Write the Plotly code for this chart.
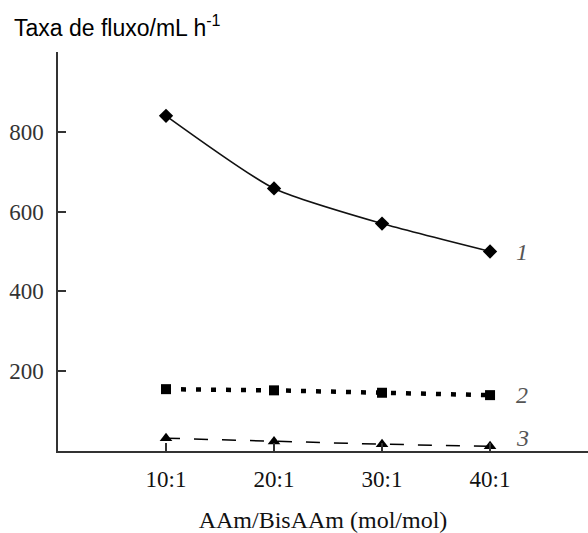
import plotly.graph_objects as go

categories = ["10:1", "20:1", "30:1", "40:1"]
x_pos = [1, 2, 3, 4]
series1 = [840, 658, 570, 500]
series2 = [155, 152, 146, 140]
series3 = [32, 24, 17, 12]
series_labels = ["1", "2", "3"]
label_yshift = [0, 0, 8]
y_ticks = [200, 400, 600, 800]

fig = go.Figure()
fig.add_trace(go.Scatter(
    x=x_pos, y=series1, mode="lines+markers",
    line=dict(color="#111", width=1.6, shape="spline", smoothing=0.6),
    marker=dict(symbol="diamond", size=11, color="#000"),
    showlegend=False))
fig.add_trace(go.Scatter(
    x=x_pos, y=series2, mode="lines+markers",
    line=dict(color="#000", width=4.5, dash="5px,10px"),
    marker=dict(symbol="square", size=10, color="#000"),
    showlegend=False))
fig.add_trace(go.Scatter(
    x=x_pos, y=series3, mode="lines+markers",
    line=dict(color="#000", width=1.5, dash="14px,14px"),
    marker=dict(symbol="triangle-up", size=11, color="#000"),
    showlegend=False))

last_vals = [series1[-1], series2[-1], series3[-1]]
for lab, yv, ys in zip(series_labels, last_vals, label_yshift):
    fig.add_annotation(x=4, y=yv, text="<i>" + lab + "</i>", showarrow=False,
                       xshift=32, yshift=ys,
                       font=dict(family="Liberation Serif", size=24, color="#555"),
                       xanchor="center", yanchor="middle")

fig.add_annotation(xref="paper", yref="paper", x=-0.087, y=1.066,
                   text="Taxa de fluxo/mL h<sup>-1</sup>", showarrow=False,
                   xanchor="left", yanchor="middle",
                   font=dict(family="Liberation Sans", size=23, color="#000"))

fig.update_layout(
    width=588, height=533,
    margin=dict(l=58, r=0, t=52, b=82),
    paper_bgcolor="white", plot_bgcolor="white",
    xaxis=dict(range=[0, 4.907], tickvals=x_pos, ticktext=categories,
               ticks="inside", ticklen=8, tickwidth=1.5, tickcolor="#333",
               showline=True, linecolor="#333", linewidth=1.5,
               showgrid=False, zeroline=False,
               ticklabelstandoff=7,
               tickfont=dict(family="Liberation Serif", size=23, color="#111"),
               title=dict(text="AAm/BisAAm (mol/mol)",
                          font=dict(family="Liberation Serif", size=24, color="#111"),
                          standoff=23)),
    yaxis=dict(range=[0, 1000], tickvals=y_ticks,
               ticks="inside", ticklen=8, tickwidth=1.5, tickcolor="#333",
               showline=True, linecolor="#333", linewidth=1.5,
               showgrid=False, zeroline=False,
               tickfont=dict(family="Liberation Serif", size=23, color="#333"),
               ticklabelstandoff=8),
)

fig.write_html("out.html")
